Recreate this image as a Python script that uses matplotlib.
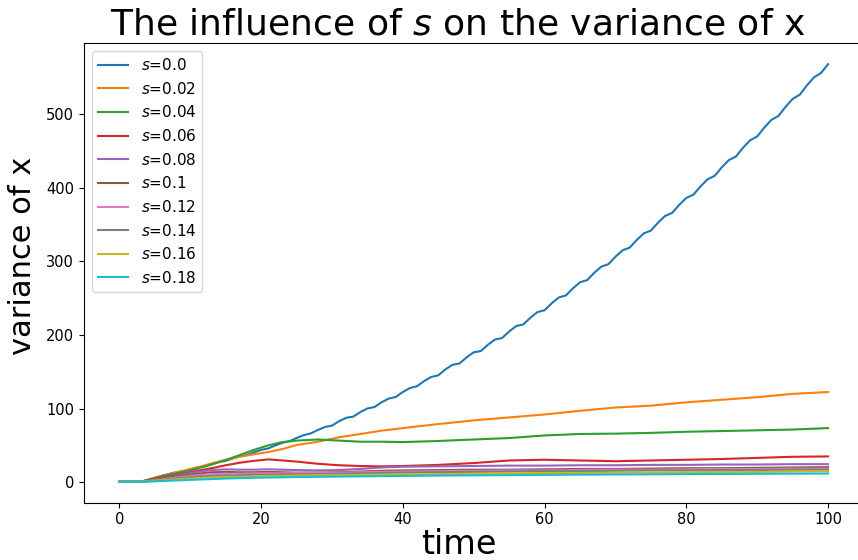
import matplotlib
matplotlib.use("Agg")
import matplotlib.pyplot as plt

# ---- data ----
s_values = ["0.0", "0.02", "0.04", "0.06", "0.08", "0.1", "0.12", "0.14", "0.16", "0.18"]

t_fine = list(range(0, 101))
var_s000 = [0.5, 0.5, 0.5, 0.6, 3.0, 6.0, 8.8, 11.2, 13.5, 15.0,
            17.6, 20.1, 21.5, 24.5, 27.3, 29.0, 32.2, 35.3, 37.0, 40.7,
            44.0, 45.9, 50.0, 53.6, 55.7, 60.1, 63.9, 66.3, 70.9, 75.0,
            76.9, 82.9, 87.5, 89.1, 95.3, 100.2, 102.1, 108.6, 113.6, 115.8,
            122.6, 127.9, 130.4, 137.4, 143.0, 145.2, 153.3, 159.5, 161.3, 169.7,
            176.5, 178.2, 186.8, 193.9, 195.9, 204.8, 212.2, 214.4, 223.5, 231.2,
            233.7, 243.1, 251.0, 253.7, 263.4, 271.6, 274.6, 284.5, 292.9, 296.2,
            306.4, 315.1, 318.7, 329.1, 338.1, 341.9, 352.6, 361.8, 365.9, 376.9,
            386.3, 390.7, 401.9, 411.6, 416.3, 427.8, 437.7, 442.6, 454.4, 464.6,
            469.8, 481.8, 492.3, 497.7, 510.0, 520.8, 526.5, 539.0, 550.0, 556.0,
            568.0]

t_coarse = [0, 3, 5, 7, 9, 11, 13, 15, 17, 19, 21, 23, 25, 28, 31, 34, 37, 40,
            45, 50, 55, 60, 65, 70, 75, 80, 85, 90, 95, 100]
var_s002 = [0.5, 0.6, 6, 11, 15.5, 20, 25.5, 30.5, 34.5, 38, 41, 45, 50.5, 55, 61, 65.5, 70, 73.5,
            79, 84, 88, 92, 97, 101.5, 104, 108.5, 112, 115.5, 120, 122.5]
var_s004 = [0.5, 0.6, 5.5, 10, 14, 18.5, 24, 30, 37, 44, 50, 54.5, 56.5, 58, 56.5, 55, 55, 54.5,
            56, 58, 60, 63.5, 65.5, 66, 67, 68.5, 69.5, 70.5, 71.5, 73.5]
var_s006 = [0.5, 0.6, 4.5, 8, 11.5, 15.5, 19, 23, 26.5, 29, 31, 29.5, 28, 25, 23, 22, 21.5, 22,
            23.5, 26, 29.5, 30.5, 29.5, 28.5, 29.5, 30.5, 31.5, 33, 34.5, 35]
var_s008 = [0.5, 0.6, 3.5, 7, 10.5, 14, 16.5, 17.5, 17, 17, 17.5, 17, 16.5, 16, 16.5, 18, 20, 21,
            21.5, 22, 22.5, 22.5, 23, 23, 23.5, 23.5, 24, 24, 24.5, 24.5]
var_s010 = [0.5, 0.6, 3, 6, 9, 11.5, 13.5, 14, 13.5, 13.5, 14, 13.5, 13, 13, 13.5, 14.5, 15.5, 16,
            16.5, 17, 17, 17.5, 18, 18, 18.5, 19, 19, 19.5, 20, 20.5]
var_s012 = [0.5, 0.6, 2.5, 5, 7.5, 9.5, 11, 11.5, 11.5, 12, 12, 12, 12.5, 13, 13, 13.5, 14, 14.5,
            15, 15.5, 16, 16, 16.5, 17, 17, 17.5, 18, 18, 18.5, 18.5]
var_s014 = [0.5, 0.6, 2, 4, 6, 7.5, 8.5, 9, 9.5, 10, 10, 10.5, 11, 11, 11.5, 12, 12.5, 13,
            13.5, 14, 14.5, 15, 15, 15.5, 16, 16, 16.5, 16.5, 17, 17]
var_s016 = [0.5, 0.6, 1.8, 3.2, 4.5, 5.5, 6.5, 7, 7.5, 8, 8.5, 8.5, 9, 9.5, 9.5, 10, 10.5, 10.5,
            11, 11.5, 12, 12.5, 12.5, 13, 13, 13.5, 14, 14, 14.5, 15]
var_s018 = [0.5, 0.6, 1.2, 2, 2.8, 3.5, 4.2, 5, 5.5, 6, 6.3, 6.6, 7, 7.3, 7.6, 7.9, 8.2, 8.5,
            9, 9.3, 9.6, 10, 10.2, 10.5, 10.7, 11, 11.2, 11.4, 11.6, 11.8]

series = [(t_fine, var_s000), (t_coarse, var_s002), (t_coarse, var_s004), (t_coarse, var_s006),
          (t_coarse, var_s008), (t_coarse, var_s010), (t_coarse, var_s012), (t_coarse, var_s014),
          (t_coarse, var_s016), (t_coarse, var_s018)]

# ---- figure ----
fig = plt.figure(figsize=(8.58, 5.60), dpi=100)
ax = fig.add_axes([84 / 858, (560 - 502.7) / 560, (863.5 - 84) / 858, (502.7 - 43.3) / 560])

for s, (t, v) in zip(s_values, series):
    ax.plot(t, v, lw=1.5, label=r"$s$=" + s)

ax.set_title(r"The influence of $s$ on the variance of x", fontsize=26, x=0.4798)
ax.set_xlabel("time", fontsize=24)
ax.set_ylabel("variance of x", fontsize=22)
ax.xaxis.set_label_coords(0.481, -0.055)
ax.yaxis.set_label_coords(-0.0603, 0.537)
ax.tick_params(labelsize=10.5)
ax.legend(loc="upper left", fontsize=11)

fig.savefig("out.png", dpi=100)
